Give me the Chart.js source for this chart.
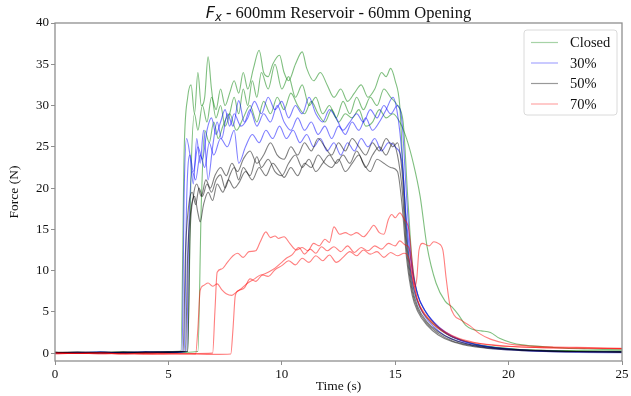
<!DOCTYPE html>
<html>
<head>
<meta charset="utf-8">
<script src="https://cdn.jsdelivr.net/npm/chart.js@4.4.0/dist/chart.umd.min.js"></script>
<style>
  html, body { margin: 0; padding: 0; background: #fff; }
  #wrap { width: 631px; height: 396px; }
</style>
</head>
<body>
<div id="wrap"><canvas id="forceChart" width="631" height="396"></canvas></div>
<script>
const seriesLabels = ["Closed", "30%", "50%", "70%"];
const seriesColors = [
  "rgba(0, 128, 0, 0.5)",
  "rgba(0, 0, 255, 0.5)",
  "rgba(0, 0, 0, 0.5)",
  "rgba(255, 0, 0, 0.5)",
];
const legendColors = [
  "rgba(0, 128, 0, 0.35)",
  "rgba(0, 0, 255, 0.35)",
  "rgba(0, 0, 0, 0.4)",
  "rgba(255, 0, 0, 0.35)",
];
const xTicks = [0, 5, 10, 15, 20, 25];
const yTicks = [0, 5, 10, 15, 20, 25, 30, 35, 40];

// each run: [time (s), force (N)]
const closedRun1 = [[0,0.1],[1,0.05],[2,0.15],[3,0],[4,0.1],[5,0.2],[5.55,0.25],[5.7,25],[5.85,31],[6.0,32.5],[6.15,29],[6.3,34],[6.45,30],[6.6,31],[6.75,35.9],[6.9,32],[7.1,28.5],[7.3,30],[7.5,27.5],[7.7,29],[7.9,31],[8.1,29],[8.3,32],[8.5,30],[8.7,33],[8.9,31],[9.1,34],[9.4,32],[9.7,35],[10.0,32],[10.3,33.5],[10.6,31],[10.9,32.5],[11.2,30],[11.5,31],[11.8,29],[12.1,30],[12.4,28.5],[12.7,30.5],[13.0,29],[13.3,31],[13.6,29.5],[13.9,31],[14.2,30],[14.5,32],[14.8,31],[15.1,30],[15.35,28],[15.55,19],[15.75,11],[16.0,7],[16.3,5.2],[16.6,4.0],[17.0,2.9],[17.5,2.0],[18.0,1.5],[18.6,1.0],[19.3,0.7],[20.2,0.5],[21.2,0.35],[22.3,0.3],[23.5,0.25],[25,0.2]];
const closedRun2 = [[0,0.0],[1,0.1],[2,0.05],[3,0.15],[4,0.0],[5,0.1],[5.85,0.2],[6.0,22],[6.15,29],[6.3,27],[6.5,30],[6.7,28],[6.9,31],[7.1,29.5],[7.3,32],[7.5,30],[7.7,31.5],[7.9,33],[8.1,31.5],[8.3,34],[8.5,32],[8.75,34.5],[9.0,36.7],[9.2,34],[9.4,33.5],[9.6,35],[9.9,36.1],[10.1,34],[10.3,33],[10.6,35],[10.9,36.5],[11.1,34.5],[11.4,33],[11.7,34],[12.0,32.5],[12.3,31],[12.6,32],[12.9,30.5],[13.2,31.5],[13.5,32.5],[13.8,31],[14.1,32],[14.4,34],[14.6,33.5],[14.8,34.5],[15.0,33],[15.2,30],[15.35,22],[15.55,13],[15.8,8],[16.1,5.5],[16.5,4.0],[16.9,3.0],[17.4,2.1],[18.0,1.5],[18.7,1.0],[19.5,0.7],[20.5,0.45],[21.5,0.35],[23,0.3],[25,0.25]];
const closedRun3 = [[0,0.05],[1,0.0],[2,0.1],[3,0.05],[4,0.15],[5,0.05],[6.3,0.2],[6.45,18],[6.6,27],[6.8,25.5],[7.0,28],[7.2,26],[7.4,27.5],[7.7,29],[8.0,27],[8.3,28.5],[8.6,30],[8.9,28],[9.2,30.5],[9.5,29],[9.8,31],[10.1,29.5],[10.4,31.5],[10.7,30],[11.0,29],[11.3,30.5],[11.6,29],[11.9,28],[12.2,29.5],[12.5,28],[12.8,29],[13.1,28.5],[13.4,29.5],[13.7,27.5],[14.0,28],[14.3,29.5],[14.6,28.5],[14.9,29],[15.2,28],[15.5,26],[15.8,23],[16.1,19],[16.4,13],[16.8,8.5],[17.2,6.3],[17.5,5.6],[17.8,4.6],[18.1,3.4],[18.4,2.9],[18.8,2.7],[19.2,2.5],[19.6,1.8],[20.1,1.3],[20.6,1.0],[21.5,0.8],[22.5,0.6],[23.5,0.5],[25,0.4]];

const open30Run1 = [[0,0.1],[1,0.0],[2,0.1],[3,0.05],[4,0.2],[5,0.1],[5.6,0.2],[5.7,20],[5.8,26],[5.95,24],[6.1,20.5],[6.25,26],[6.4,23],[6.55,27],[6.75,21],[6.95,25],[7.15,28],[7.35,26],[7.6,29],[7.85,27.5],[8.1,30.6],[8.35,28],[8.6,29.5],[8.9,27.5],[9.2,29],[9.5,28],[9.8,30],[10.1,28],[10.4,27],[10.7,28.5],[11.0,27],[11.3,28],[11.6,26.5],[11.9,27.5],[12.2,26],[12.5,27.5],[12.8,26.5],[13.1,28],[13.4,27],[13.7,28.5],[14.0,27],[14.3,28],[14.6,29.5],[14.9,31],[15.1,29],[15.3,24],[15.5,15],[15.7,9.5],[15.95,6.5],[16.3,4.5],[16.7,3.2],[17.2,2.1],[17.8,1.4],[18.5,0.9],[19.3,0.55],[20.3,0.35],[21.5,0.2],[23,0.1],[25,0.05]];
const open30Run2 = [[0,0.05],[1,0.1],[2,0.0],[3,0.1],[4,0.05],[5,0.15],[5.7,0.2],[5.8,18],[5.95,24],[6.1,22],[6.3,25],[6.5,23.5],[6.7,27],[6.9,28.5],[7.1,26.5],[7.3,28],[7.5,29.5],[7.7,27.5],[7.9,29],[8.2,27.5],[8.5,28.5],[8.8,30.5],[9.1,29],[9.4,31],[9.7,29.5],[10.0,30.5],[10.3,28.5],[10.6,30],[10.9,29],[11.2,31],[11.5,29],[11.8,28],[12.1,29.5],[12.4,28.5],[12.7,27],[13.0,28],[13.3,29],[13.6,28],[13.9,29.5],[14.2,28.5],[14.5,30],[14.8,29],[15.1,30],[15.3,28],[15.5,19],[15.7,11.5],[15.95,7.5],[16.3,5.2],[16.7,3.8],[17.2,2.6],[17.8,1.7],[18.5,1.1],[19.3,0.7],[20.3,0.45],[21.5,0.3],[23,0.2],[25,0.15]];
const open30Run3 = [[0,0.0],[1,0.05],[2,0.15],[3,0.0],[4,0.1],[5,0.05],[5.8,0.2],[5.9,15],[6.05,22],[6.2,21],[6.4,24],[6.6,22.5],[6.8,25.5],[7.0,24],[7.3,26],[7.6,25],[7.9,27],[8.1,23],[8.4,25],[8.7,26.5],[9.0,25.5],[9.3,27],[9.6,26],[9.9,27.5],[10.2,26],[10.5,27],[10.8,25.5],[11.1,26.5],[11.4,25],[11.7,26],[12.0,24.5],[12.3,25.5],[12.6,24],[12.9,25.5],[13.2,24.5],[13.5,26],[13.8,25],[14.1,26],[14.4,24.5],[14.7,25.5],[15.0,25],[15.3,23],[15.5,16],[15.75,10],[16.0,7],[16.35,5],[16.8,3.4],[17.3,2.3],[17.9,1.5],[18.6,1.0],[19.4,0.65],[20.4,0.4],[21.5,0.25],[23,0.2],[25,0.15]];

const open50Run1 = [[0,0.1],[1,0.05],[2,0.0],[3,0.1],[4,0.15],[5,0.1],[5.65,0.2],[5.75,12],[5.9,18],[6.05,19.5],[6.2,18],[6.35,20],[6.5,19],[6.7,20.5],[6.9,19.5],[7.1,21],[7.3,21.6],[7.5,20],[7.7,21.5],[7.9,22.5],[8.1,21],[8.3,22.5],[8.6,21.5],[8.9,23.8],[9.1,22.5],[9.4,23.5],[9.7,22],[10.0,21.5],[10.3,23],[10.6,24],[10.9,22.5],[11.2,23.5],[11.5,22],[11.8,23],[12.1,24],[12.4,23],[12.7,24],[13.0,23],[13.3,24.5],[13.6,23],[13.9,22],[14.2,23.5],[14.5,23],[14.8,22.5],[15.1,22],[15.3,18],[15.5,11.5],[15.75,7],[16.0,5],[16.4,3.4],[16.9,2.2],[17.5,1.4],[18.2,0.9],[19.0,0.6],[20,0.4],[21.3,0.25],[23,0.15],[25,0.1]];
const open50Run2 = [[0,0.05],[1,0.15],[2,0.05],[3,0.0],[4,0.1],[5,0.2],[5.75,0.2],[5.85,12],[6.0,17.5],[6.15,19],[6.3,17],[6.4,15.9],[6.55,18],[6.75,19.5],[6.95,18.5],[7.15,20.5],[7.4,19.5],[7.65,21],[7.9,20],[8.1,20.6],[8.4,22],[8.7,21],[9.0,22.5],[9.3,21.5],[9.6,23],[9.9,22],[10.1,21.3],[10.4,22.5],[10.7,21.5],[11.0,23],[11.3,22.5],[11.6,24],[11.9,23],[12.2,22.5],[12.5,23.5],[12.8,22],[13.1,23],[13.4,24],[13.7,22.5],[14.0,24],[14.3,25],[14.6,24],[14.9,25.5],[15.1,24],[15.3,20],[15.5,12.5],[15.75,7.5],[16.0,5.3],[16.4,3.6],[16.9,2.4],[17.5,1.5],[18.2,1.0],[19.0,0.65],[20,0.45],[21.3,0.3],[23,0.2],[25,0.15]];
const open50Run3 = [[0,0.1],[1,0.0],[2,0.1],[3,0.15],[4,0.05],[5,0.1],[5.85,0.2],[5.95,14],[6.1,19],[6.25,20.5],[6.45,19],[6.65,21],[6.85,20],[7.05,21.5],[7.3,22.5],[7.55,21.5],[7.8,23],[8.05,22],[8.3,23.5],[8.6,24.5],[8.9,23],[9.2,24],[9.5,25.5],[9.8,24],[10.1,23.5],[10.4,25],[10.7,24],[11.0,25.5],[11.3,24.5],[11.6,26],[11.9,25],[12.2,24],[12.5,25.5],[12.8,24.5],[13.1,26],[13.4,25],[13.7,24],[14.0,25.5],[14.3,24.5],[14.6,26],[14.9,25],[15.1,25.5],[15.3,22],[15.5,13.5],[15.75,8],[16.0,5.6],[16.4,3.8],[16.9,2.6],[17.5,1.7],[18.2,1.1],[19.0,0.75],[20,0.5],[21.3,0.35],[23,0.2],[25,0.15]];

const open70Run1 = [[0,0.0],[1,-0.05],[2,0.05],[3,-0.1],[4,-0.05],[5,-0.1],[6.2,-0.1],[6.3,3],[6.4,7.6],[6.55,8.2],[6.75,8.5],[6.95,8.1],[7.15,8.4],[7.35,7.7],[7.55,7.2],[7.8,7.0],[8.0,7.4],[8.25,7.9],[8.5,8.5],[8.8,9.0],[9.1,9.5],[9.4,9.3],[9.7,10.1],[10.0,10.6],[10.3,11.2],[10.6,10.7],[10.9,11.5],[11.2,11.0],[11.5,11.8],[11.8,11.2],[12.1,11.9],[12.4,11.0],[12.7,11.6],[13.0,12.3],[13.3,11.8],[13.6,12.5],[13.9,12.0],[14.2,12.3],[14.5,11.6],[14.8,12.2],[15.1,11.8],[15.4,12.1],[15.6,11.5],[15.8,8.5],[16.0,6.3],[16.3,4.8],[16.7,3.6],[17.2,2.6],[17.8,1.8],[18.5,1.3],[19.3,1.0],[20.2,0.8],[21.2,0.7],[22.3,0.65],[23.5,0.6],[25,0.55]];
const open70Run2 = [[0,-0.1],[1,0.0],[2,-0.1],[3,-0.05],[4,-0.15],[5,-0.1],[6,-0.05],[6.95,0],[7.05,5],[7.15,9.8],[7.35,10.2],[7.6,11.0],[7.85,11.8],[8.05,12.1],[8.3,11.6],[8.55,12.3],[8.85,12.4],[9.05,13.5],[9.3,14.7],[9.5,14.0],[9.7,14.2],[9.85,13.9],[10.1,14.1],[10.35,13.3],[10.65,12.5],[10.9,12.8],[11.15,12.4],[11.4,13.3],[11.65,13.0],[11.9,13.8],[12.1,13.4],[12.3,15.3],[12.55,14.4],[12.8,14.6],[13.05,14.3],[13.3,14.6],[13.6,14.1],[13.85,14.8],[14.05,15.5],[14.3,14.6],[14.5,14.4],[14.7,16.2],[14.85,16.8],[15.0,16.4],[15.2,17.0],[15.4,16.2],[15.6,15.0],[15.75,11],[15.9,7.5],[16.1,5.6],[16.4,4.3],[16.8,3.2],[17.3,2.3],[17.9,1.6],[18.6,1.2],[19.5,0.9],[20.5,0.75],[21.5,0.65],[22.5,0.6],[23.5,0.6],[25,0.55]];
const open70Run3 = [[0,0.05],[1,-0.05],[2,0.0],[3,-0.1],[4,0.0],[5,-0.05],[6,-0.1],[7,-0.15],[7.75,-0.1],[7.85,3],[7.95,7.0],[8.1,7.6],[8.35,7.9],[8.6,9.0],[8.85,8.7],[9.1,9.4],[9.4,9.8],[9.7,10.3],[10.0,11.0],[10.2,11.5],[10.45,11.9],[10.75,12.8],[11.0,12.0],[11.25,12.6],[11.5,12.1],[11.75,12.9],[12.0,12.4],[12.3,12.9],[12.6,12.3],[12.9,13.0],[13.2,12.2],[13.5,12.8],[13.8,12.4],[14.1,13.0],[14.4,12.6],[14.7,13.3],[15.0,13.0],[15.2,13.6],[15.45,13.1],[15.6,12.8],[15.75,10],[15.85,8.0],[15.95,9],[16.05,12.5],[16.2,13.3],[16.5,13.0],[16.7,13.5],[16.9,13.3],[17.1,12.5],[17.25,9],[17.4,6],[17.6,4.6],[17.9,4.0],[18.3,3.3],[18.7,2.4],[19.2,1.7],[19.7,1.3],[20.3,1.0],[21,0.85],[22,0.75],[23,0.7],[24,0.65],[25,0.6]];

const runGroups = [
  [closedRun1, closedRun2, closedRun3],
  [open30Run1, open30Run2, open30Run3],
  [open50Run1, open50Run2, open50Run3],
  [open70Run1, open70Run2, open70Run3],
];

const serif = "'Liberation Serif', 'Times New Roman', serif";

// build datasets, last group first so it is drawn on top
const datasets = [];
for (let g = runGroups.length - 1; g >= 0; g--) {
  runGroups[g].forEach(function (run) {
    datasets.push({
      label: seriesLabels[g],
      data: run.map(p => ({ x: p[0], y: p[1] })),
      borderColor: seriesColors[g],
      borderWidth: 1.1,
      pointRadius: 0,
      fill: false,
      cubicInterpolationMode: "monotone",
    });
  });
}

const decorPlugin = {
  id: "decor",
  afterDatasetsDraw(chart) {
    const ctx = chart.ctx;
    const a = chart.chartArea;
    ctx.save();
    // frame
    ctx.strokeStyle = "#8f8f8f";
    ctx.lineWidth = 1.3;
    ctx.strokeRect(a.left, a.top, a.right - a.left, a.bottom - a.top);

    // legend box
    const bx = 524, by = 30, bw = 93, bh = 85;
    ctx.beginPath();
    ctx.roundRect(bx, by, bw, bh, 3);
    ctx.fillStyle = "rgba(255,255,255,0.8)";
    ctx.fill();
    ctx.strokeStyle = "#dadada";
    ctx.lineWidth = 1;
    ctx.stroke();
    ctx.font = "14.5px " + serif;
    ctx.textBaseline = "middle";
    ctx.textAlign = "left";
    seriesLabels.forEach(function (lab, i) {
      const y = 42.5 + i * 20.5;
      ctx.beginPath();
      ctx.moveTo(531, y);
      ctx.lineTo(558, y);
      ctx.strokeStyle = legendColors[i];
      ctx.lineWidth = 1.2;
      ctx.stroke();
      ctx.fillStyle = "#111";
      ctx.fillText(lab, 570, y + 1);
    });

    // title with F_x
    const rest = " - 600mm Reservoir - 60mm Opening";
    ctx.textBaseline = "alphabetic";
    ctx.font = "italic 16px 'DejaVu Sans'";
    const fW = ctx.measureText("F").width;
    ctx.font = "italic 11.5px 'DejaVu Sans'";
    const xW = ctx.measureText("x").width;
    ctx.font = "16.5px " + serif;
    const rW = ctx.measureText(rest).width;
    let tx = (a.left + a.right) / 2 - (fW + xW + rW) / 2;
    const ty = 18;
    ctx.fillStyle = "#111";
    ctx.font = "italic 16px 'DejaVu Sans'";
    ctx.fillText("F", tx, ty);
    tx += fW;
    ctx.font = "italic 11.5px 'DejaVu Sans'";
    ctx.fillText("x", tx, ty + 3);
    tx += xW;
    ctx.font = "16.5px " + serif;
    ctx.fillText(rest, tx, ty);
    ctx.restore();
  },
};

const ctx = document.getElementById("forceChart").getContext("2d");
const forceChart = new Chart(ctx, {
  type: "line",
  data: { datasets: datasets },
  options: {
    responsive: false,
    animation: false,
    events: [],
    layout: { padding: { top: 23, right: 9, left: 0, bottom: 0 } },
    plugins: {
      legend: { display: false },
      tooltip: { enabled: false },
    },
    scales: {
      x: {
        type: "linear",
        min: 0,
        max: 25,
        afterFit: function (s) { s.height = 35; },
        afterBuildTicks: function (s) { s.ticks = xTicks.map(v => ({ value: v })); },
        grid: { drawOnChartArea: false, drawTicks: true, tickLength: 4, color: "#8f8f8f" },
        border: { display: false },
        ticks: { padding: 2, color: "#111", maxRotation: 0, font: { family: serif, size: 13 } },
        title: { display: true, text: "Time (s)", color: "#111", font: { family: serif, size: 13.5 }, padding: { top: 0, bottom: 1 } },
      },
      y: {
        type: "linear",
        min: -0.95,
        max: 40,
        afterFit: function (s) { s.width = 55; },
        afterBuildTicks: function (s) { s.ticks = yTicks.map(v => ({ value: v })); },
        grid: { drawOnChartArea: false, drawTicks: true, tickLength: 4, color: "#8f8f8f" },
        border: { display: false },
        ticks: { padding: 2, color: "#111", font: { family: serif, size: 13 } },
        title: { display: true, text: "Force (N)", color: "#111", font: { family: serif, size: 13.5 }, padding: { top: 6, bottom: 0 } },
      },
    },
  },
  plugins: [decorPlugin],
});
</script>
</body>
</html>
